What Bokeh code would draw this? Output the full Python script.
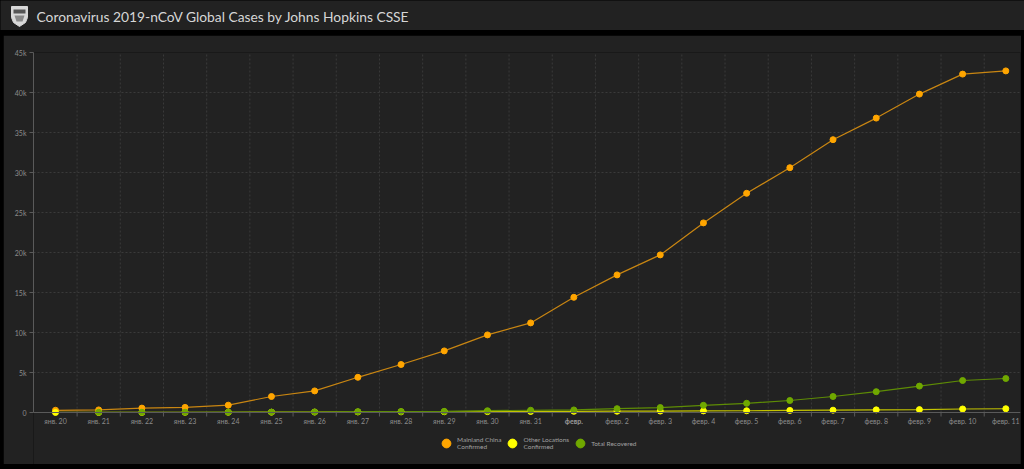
from bokeh.plotting import figure
from bokeh.models import (Range1d, FixedTicker, Legend, LegendItem, Label, Spacer,
                          ColumnDataSource)
from bokeh.layouts import column, row
from bokeh.core.properties import value
from bokeh.embed import file_html
from bokeh.resources import INLINE

# ---------------- data ----------------
dates = ["янв. 20", "янв. 21", "янв. 22", "янв. 23", "янв. 24", "янв. 25", "янв. 26",
         "янв. 27", "янв. 28", "янв. 29", "янв. 30", "янв. 31", "февр.", "февр. 2",
         "февр. 3", "февр. 4", "февр. 5", "февр. 6", "февр. 7", "февр. 8", "февр. 9",
         "февр. 10", "февр. 11"]
mainland_china = [278, 326, 547, 639, 916, 2000, 2700, 4400, 6000, 7700, 9700, 11200,
                  14400, 17200, 19700, 23700, 27400, 30600, 34100, 36800, 39800, 42300, 42700]
other_locations = [4, 6, 12, 20, 30, 40, 56, 70, 80, 90, 110, 130,
                   150, 160, 180, 200, 220, 260, 290, 330, 360, 440, 470]
total_recovered = [float("nan"), 30, 30, 34, 39, 52, 61, 107, 126, 143, 222, 284,
                   320, 480, 620, 900, 1150, 1500, 2000, 2600, 3300, 4000, 4250]
y_ticks = [0, 5000, 10000, 15000, 20000, 25000, 30000, 35000, 40000, 45000]
y_tick_labels = ["0", "5k", "10k", "15k", "20k", "25k", "30k", "35k", "40k", "45k"]
series_names = ["Mainland China\nConfirmed", "Other Locations\nConfirmed", "Total Recovered"]
title_text = "Coronavirus 2019-nCoV Global Cases by Johns Hopkins CSSE"

FONT = "Lato"
BG = "#222222"

# ---------------- title bar ----------------
t = figure(width=1024, height=30, x_range=Range1d(0, 1024), y_range=Range1d(30, 0),
           toolbar_location=None, output_backend="svg", min_border=0)
t.axis.visible = False
t.grid.visible = False
t.outline_line_color = None
t.background_fill_color = BG
t.border_fill_color = BG
# shield logo
t.patch([11, 27, 27, 25, 19, 13, 11], [6, 6, 17, 22, 26, 22, 17], fill_color="#d8d8d8",
        line_color="#d8d8d8")
t.patch([13, 25, 25, 13], [9, 9, 13, 13], fill_color="#555555", line_color=None)
t.patch([14, 24, 22, 16], [15, 15, 21, 21], fill_color="#888888", line_color=None)
t.text(x=[36], y=[15.5], text=[title_text], text_font=value(FONT), text_font_size="13.8px",
       text_color="#d6d6d6", text_baseline="middle", text_align="left")

# ---------------- main chart ----------------
x = list(range(len(dates)))
mids = [i + 0.5 for i in x[:-1]]
src = ColumnDataSource(dict(x=x, china=mainland_china, other=other_locations,
                            rec=total_recovered))

Y_TOP = y_ticks[-1]
Y_BOTTOM = -Y_TOP * 52 / 360   # room under the axis for labels and legend

p = figure(frame_width=987, frame_height=412, x_range=Range1d(-0.509, 22.34),
           y_range=Range1d(Y_BOTTOM, Y_TOP), toolbar_location=None, output_backend="svg",
           min_border_left=30, min_border_right=1, min_border_top=17, min_border_bottom=0)
p.background_fill_color = BG
p.border_fill_color = BG
p.outline_line_color = None

p.yaxis.ticker = FixedTicker(ticks=y_ticks)
p.yaxis.major_label_overrides = {tk: lb for tk, lb in zip(y_ticks, y_tick_labels)}
p.yaxis.bounds = (0, Y_TOP)
p.xaxis.ticker = FixedTicker(ticks=x)
overrides = {i: d for i, d in enumerate(dates)}
overrides[12] = ""
p.xaxis.major_label_overrides = overrides
p.xaxis.fixed_location = 0

for ax in (p.xaxis, p.yaxis):
    ax.axis_line_color = "#5a5a5a"
    ax.major_tick_line_color = "#5a5a5a"
    ax.minor_tick_line_color = None
    ax.major_label_text_color = "#8c8c8c"
    ax.major_label_text_font = FONT
    ax.major_label_text_font_size = "7px"
    ax.major_tick_in = 0
p.yaxis.major_tick_out = 4
p.yaxis.major_label_standoff = 3
p.xaxis.major_tick_out = 0
p.xaxis.major_label_standoff = 4

p.xgrid.visible = False
p.ygrid.ticker = FixedTicker(ticks=y_ticks)
p.ygrid.grid_line_color = "#3a3a3a"
p.ygrid.grid_line_dash = "2 2"
# vertical grid between categories, from the axis up to the top
p.segment(x0=mids, y0=[0] * len(mids), x1=mids, y1=[Y_TOP] * len(mids),
          line_color="#3a3a3a", line_dash="2 2", line_width=1)
# small ticks at the category boundaries below the axis
p.segment(x0=mids, y0=[0] * len(mids), x1=mids, y1=[-Y_TOP * 4 / 360] * len(mids),
          line_color="#5a5a5a", line_width=1)

p.add_layout(Label(x=12, y=0, y_offset=-4, text=dates[12], text_font=FONT,
                   text_font_size="7px", text_font_style="bold", text_color="#9a9a9a",
                   text_align="center", text_baseline="top"))

colors = ["#ffa500", "#ffff00", "#70a800"]
line_colors = ["#c98612", "#c4c400", "#5e8c05"]
fields = ["china", "other", "rec"]
for f, lc in zip(fields, line_colors):
    p.line("x", f, source=src, line_color=lc, line_width=1.2)
rs = {}
for idx in [0, 1, 2]:
    rs[idx] = p.scatter("x", fields[idx], source=src, size=6, fill_color=colors[idx],
                        line_color=colors[idx])
items = [LegendItem(label=series_names[i], renderers=[rs[i]]) for i in range(3)]

legend = Legend(items=items, orientation="horizontal", location=(402, 10),
                background_fill_alpha=0, border_line_color=None,
                label_text_font=FONT, label_text_font_size="6.5px",
                label_text_color="#a0a0a0", glyph_width=22, glyph_height=22,
                label_standoff=-4, spacing=-4, padding=2, margin=0,
                label_height=8)
p.add_layout(legend, "center")

layout = column(t, Spacer(height=5), row(Spacer(width=3), p, Spacer(width=3)),
                Spacer(height=5), styles={"background-color": "#000000"})

open("out.html", "w").write(file_html(layout, INLINE))
